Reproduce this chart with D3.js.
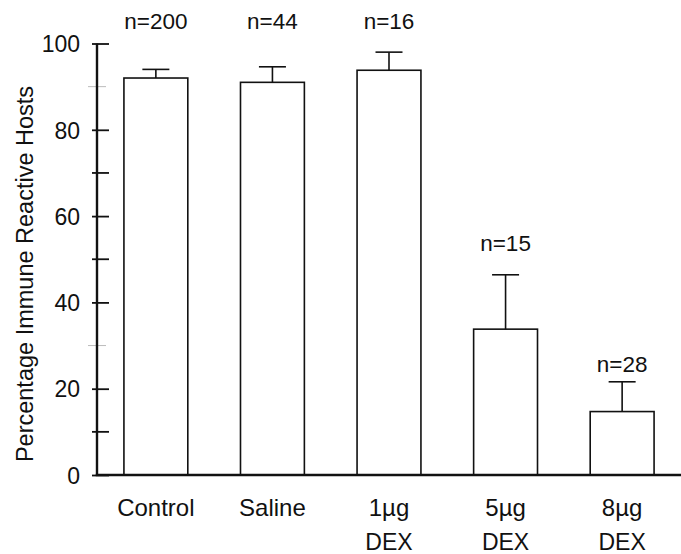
<!DOCTYPE html>
<html>
<head>
<meta charset="utf-8">
<script src="https://cdn.jsdelivr.net/npm/d3@7"></script>
<style>
  body { margin: 0; background: #fff; }
  text { font-family: 'Liberation Sans', Arial, sans-serif; fill: #111; }
</style>
</head>
<body>
<div id="chart"></div>
<script>
let groups = ['Control', 'Saline', '1µg', '5µg', '8µg']
let subLabels = ['', '', 'DEX', 'DEX', 'DEX']
let means = [92, 91, 93.8, 33.8, 14.7]
let upper = [94, 94.6, 98, 46.4, 21.6]
let nLabels = ['n=200', 'n=44', 'n=16', 'n=15', 'n=28']
let nLabelAt = [103.4, 103.4, 103.4, 51.8, 23.9]
let majorTicks = [0, 20, 40, 60, 80, 100]
let minorTicks = [10, 30, 50, 70, 90]
let fadedMinor = [30, 90]

let width = 681
let height = 554
let margin = { top: 43.5, left: 97, right: 0, bottom: 79 }

let svg = d3
  .select('#chart')
  .append('svg')
  .attr('width', width)
  .attr('height', height)

let x = d3
  .scaleBand()
  .domain(groups)
  .range([margin.left, width - margin.right])
  .paddingInner(0.452)
  .paddingOuter(0.231)

let y = d3
  .scaleLinear()
  .domain([0, 100])
  .range([height - margin.bottom, margin.top])

// bars
svg
  .append('g')
  .selectAll('.bar')
  .data(groups)
  .enter()
  .append('rect')
  .attr('class', 'bar')
  .attr('x', d => x(d))
  .attr('width', x.bandwidth())
  .attr('y', (d, i) => y(means[i]))
  .attr('height', (d, i) => y(0) - y(means[i]))
  .attr('fill', 'white')
  .attr('stroke', '#111')
  .attr('stroke-width', 1.6)

// error bars, upward only
let err = svg.append('g')
groups.forEach((d, i) => {
  let cx = x(d) + x.bandwidth() / 2
  err
    .append('line')
    .attr('x1', cx)
    .attr('x2', cx)
    .attr('y1', y(means[i]))
    .attr('y2', y(upper[i]))
    .attr('stroke', '#111')
    .attr('stroke-width', 1.6)
  err
    .append('line')
    .attr('x1', cx - 13.5)
    .attr('x2', cx + 13.5)
    .attr('y1', y(upper[i]))
    .attr('y2', y(upper[i]))
    .attr('stroke', '#111')
    .attr('stroke-width', 1.6)
})

// n labels
svg
  .append('g')
  .selectAll('.nlab')
  .data(nLabels)
  .enter()
  .append('text')
  .attr('class', 'nlab')
  .attr('x', (d, i) => x(groups[i]) + x.bandwidth() / 2)
  .attr('y', (d, i) => y(nLabelAt[i]))
  .attr('text-anchor', 'middle')
  .style('font-size', '22.5px')
  .text(d => d)

// y axis
let yAxis = svg
  .append('g')
  .attr('transform', 'translate(' + margin.left + ',0)')
  .call(
    d3.axisLeft(y).tickValues(majorTicks).tickSize(5).tickPadding(12)
  )
yAxis.select('.domain').remove()
yAxis.selectAll('.tick line').attr('x1', 12).attr('stroke', '#111').attr('stroke-width', 1.8)
yAxis
  .selectAll('.tick text')
  .style('font-size', '23px')
  .style('font-family', "'Liberation Sans', Arial, sans-serif")
  .attr('fill', '#111')
  .attr('dy', '0.36em')

svg
  .append('g')
  .selectAll('.minor')
  .data(minorTicks)
  .enter()
  .append('line')
  .attr('class', 'minor')
  .attr('x1', d => (fadedMinor.includes(d) ? margin.left - 9 : margin.left - 5))
  .attr('x2', d => (fadedMinor.includes(d) ? margin.left + 9 : margin.left + 12))
  .attr('y1', d => y(d))
  .attr('y2', d => y(d))
  .attr('stroke', d => (fadedMinor.includes(d) ? '#bbb' : '#111'))
  .attr('stroke-width', d => (fadedMinor.includes(d) ? 1 : 1.8))

svg
  .append('line')
  .attr('x1', margin.left)
  .attr('x2', margin.left)
  .attr('y1', y(100))
  .attr('y2', y(0))
  .attr('stroke', '#111')
  .attr('stroke-width', 2.4)

// x axis line
svg
  .append('line')
  .attr('x1', margin.left - 1.2)
  .attr('x2', width)
  .attr('y1', y(0))
  .attr('y2', y(0))
  .attr('stroke', '#111')
  .attr('stroke-width', 2.4)

// category labels
let cats = svg.append('g')
groups.forEach((d, i) => {
  let cx = x(d) + x.bandwidth() / 2
  cats
    .append('text')
    .attr('x', cx)
    .attr('y', 516)
    .attr('text-anchor', 'middle')
    .style('font-size', '24px')
    .text(d)
  if (subLabels[i]) {
    cats
      .append('text')
      .attr('x', cx)
      .attr('y', 550)
      .attr('text-anchor', 'middle')
      .style('font-size', '23px')
      .text(subLabels[i])
  }
})

// y title
svg
  .append('text')
  .attr('transform', 'translate(33,274) rotate(-90)')
  .attr('text-anchor', 'middle')
  .style('font-size', '23.5px')
  .text('Percentage Immune Reactive Hosts')
</script>
</body>
</html>
